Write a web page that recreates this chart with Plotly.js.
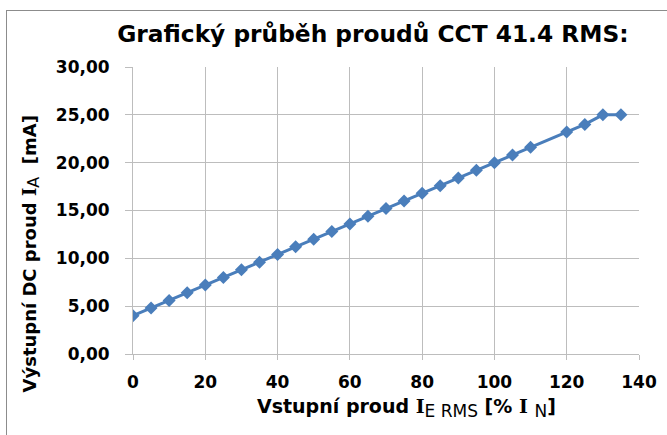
<!DOCTYPE html>
<html><head><meta charset="utf-8">
<script src="https://cdn.plot.ly/plotly-3.0.1.min.js"></script>
<style>
html,body{margin:0;padding:0;background:#fff;}
#wrap{position:relative;width:667px;height:435px;overflow:hidden;}
#chart{width:667px;height:435px;}
#frame{position:absolute;left:6px;top:10px;width:700px;height:500px;border:1px solid #8c8c8c;pointer-events:none;}
</style>
</head><body>
<div id="wrap"><div id="chart"></div><div id="frame"></div></div>
<script>
var inputPct = [0,5,10,15,20,25,30,35,40,45,50,55,60,65,70,75,80,85,90,95,100,105,110,120,125,130,135];
var outputMA = [4.0,4.8,5.6,6.4,7.2,8.0,8.8,9.6,10.4,11.2,12.0,12.8,13.6,14.4,15.2,16.0,16.8,17.6,18.4,19.2,20.0,20.8,21.6,23.2,24.0,25.0,25.0];
var xTicks = [0,20,40,60,80,100,120,140];
var yTicks = [0,5,10,15,20,25,30];

var F = "DejaVu Sans, Verdana, sans-serif";
var SERIF_I = '<span style="font-family:\'DejaVu Serif\',serif;font-weight:bold">I</span>';
function sub(t, px) { return '<sub><span style="font-size:' + px + 'px;font-weight:normal">' + t + '</span></sub>'; }

var trace = {
  x: inputPct, y: outputMA, type: 'scatter', mode: 'lines+markers',
  line: {color: '#4a7ebb', width: 3},
  marker: {symbol: 'diamond', size: 10, color: '#4a7ebb'},
  hoverinfo: 'skip'
};
var layout = {
  width: 667, height: 435,
  margin: {l: 133, r: 28, t: 67, b: 81},
  paper_bgcolor: '#fff', plot_bgcolor: '#fff',
  separators: ', ',
  showlegend: false,
  title: {text: '<b>Grafický průběh proudů CCT 41.4 RMS:</b>', font: {family: F, size: 23.3, color: '#000'},
          x: 0.559, xref: 'container', xanchor: 'center', y: 0.923, yref: 'container', yanchor: 'middle'},
  xaxis: {
    range: [0, 140], tickvals: xTicks, ticktext: xTicks.map(String),
    showgrid: true, gridcolor: '#bdbdbd', gridwidth: 1,
    zeroline: false, showline: true, linecolor: '#bdbdbd', linewidth: 1,
    ticks: 'outside', ticklen: 5, tickcolor: '#bdbdbd', ticklabelstandoff: 8,
    tickfont: {family: F, size: 17, color: '#000', weight: 'bold'}
  },
  yaxis: {
    range: [0, 30], tickvals: yTicks, tickformat: '.2f',
    showgrid: true, gridcolor: '#bdbdbd', gridwidth: 1,
    zeroline: false, showline: true, linecolor: '#bdbdbd', linewidth: 1,
    ticks: 'outside', ticklen: 7, tickcolor: '#bdbdbd', ticklabelstandoff: 12,
    tickfont: {family: F, size: 17, color: '#000', weight: 'bold'}
  },
  annotations: [{
    text: '<b>Vstupní proud ' + SERIF_I + '</b>' + sub('E RMS', 17) + '<b> [% ' + SERIF_I + ' </b>' + sub('N', 17) + '<b>]</b>',
    xref: 'paper', yref: 'paper', x: 0.5, y: 0, xanchor: 'center', yanchor: 'middle',
    xshift: 20, yshift: -54, showarrow: false, font: {family: F, size: 19, color: '#000'}
  }, {
    text: '<b>Výstupní DC proud ' + SERIF_I + '</b>' + sub('A', 16) + '<b>  [mA]</b>', textangle: -90,
    xref: 'paper', yref: 'paper', x: 0, y: 0.5, xanchor: 'center', yanchor: 'middle',
    xshift: -102, yshift: -43, showarrow: false, font: {family: F, size: 18, color: '#000'}
  }]
};
Plotly.newPlot('chart', [trace], layout, {displayModeBar: false, staticPlot: true});
</script>
</body></html>
